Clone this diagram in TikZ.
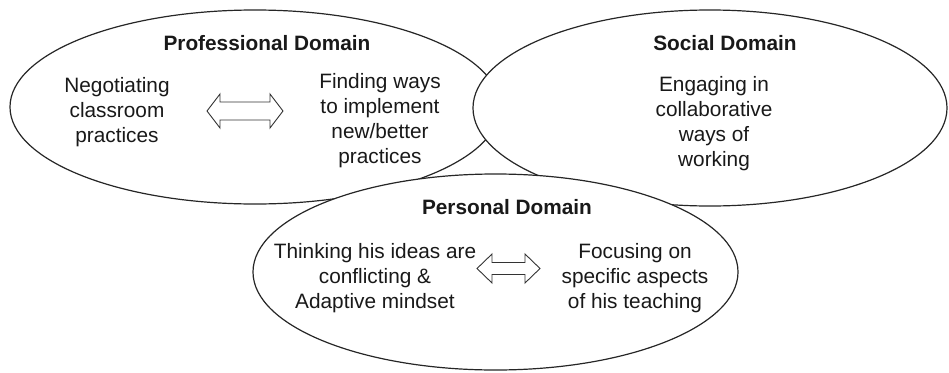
\documentclass[tikz,border=0pt]{standalone}
\usepackage{fontspec}
\setmainfont{Liberation Sans}
\usetikzlibrary{shapes.geometric}
\tikzset{
  domainell/.style={ellipse, draw=black!85, line width=1.2pt, fill=white, inner sep=0pt},
  ttltxt/.style={font=\fontsize{20.8}{25}\selectfont\bfseries, text=black!90, inner sep=0pt},
  bodytxt/.style={font=\fontsize{20.8}{25}\selectfont, align=center, text=black!90, inner sep=0pt},
  dblarrow/.style={draw=black!80, line width=0.9pt, fill=white, line join=miter}
}
\newcommand{\mydblarrow}[6]{% name, center, halflen, halfhead, halfshaft, headlen
  \coordinate (#1) at #2;
  \draw[dblarrow, shift={(#1)}]
    (-#3,0) -- (-#3+#6,-#4) -- (-#3+#6,-#5) -- (#3-#6,-#5) -- (#3-#6,-#4)
    -- (#3,0) -- (#3-#6,#4) -- (#3-#6,#5) -- (-#3+#6,#5) -- (-#3+#6,#4) -- cycle;
}
\begin{document}
\begin{tikzpicture}[x=1pt, y=-1pt]
\useasboundingbox (0,0) rectangle (949,372);
% domains
\node[domainell, minimum width=490pt, minimum height=194pt] (prof) at (255,107) {};
\node[domainell, minimum width=474pt, minimum height=196pt] (soc) at (710,108) {};
\node[domainell, minimum width=485pt, minimum height=196pt] (pers) at (495.5,272) {};
% titles
\node[ttltxt] (proft) at (267,43) {Professional Domain};
\node[ttltxt] (soct) at (725,43) {Social Domain};
\node[ttltxt] (perst) at (507,207) {Personal Domain};
% texts
\node[bodytxt] (neg) at (117,112) {Negotiating\\classroom\\practices};
\node[bodytxt] (find) at (380,120.5) {Finding ways\\to implement\\new/better\\practices};
\node[bodytxt] (eng) at (714,123.5) {Engaging in\\collaborative\\ways of\\working};
\node[bodytxt] (think) at (375,278) {Thinking his ideas are\\conflicting \&\\Adaptive mindset};
\node[bodytxt] (focus) at (635,278) {Focusing on\\specific aspects\\of his teaching};
% double arrows
\mydblarrow{arrA}{(245,111)}{38}{17}{9}{13}
\mydblarrow{arrB}{(508.5,268.5)}{31.5}{14.5}{6}{15}
\end{tikzpicture}
\end{document}
